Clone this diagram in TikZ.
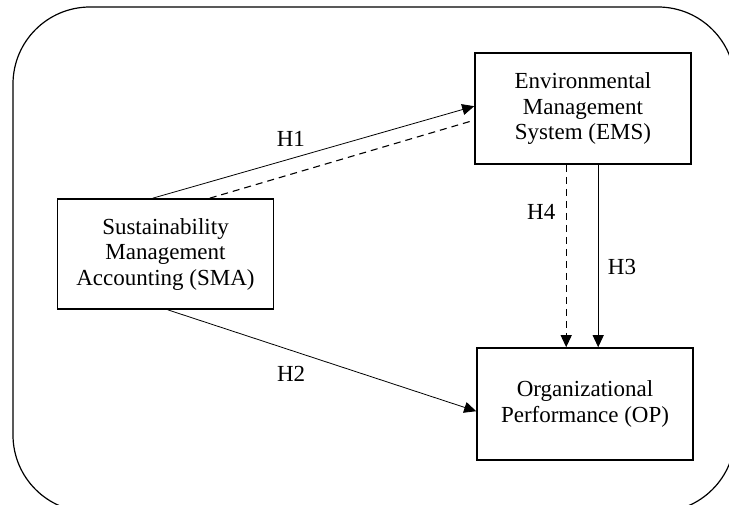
\documentclass[tikz,border=0pt]{standalone}
\usepackage{fontspec}
\setmainfont{Liberation Serif}
\usetikzlibrary{arrows.meta}

\begin{document}
\begin{tikzpicture}
	[x=1pt,y=-1pt,>={Triangle[length=12pt,width=11pt]},
		font=\fontsize{23}{25.5}\selectfont,
		var node/.style={rectangle,draw,line width=1.6pt,align=center,minimum width=216pt,inner sep=0pt},
		link/.style={->,line width=0.8pt},
		weak link/.style={line width=1.1pt,dash pattern=on 7pt off 5pt}]

	\useasboundingbox (0,0) rectangle (729,504);
	\clip (0,0) rectangle (729,504);
	\draw[line width=1.2pt,rounded corners=77pt] (13,7) rectangle (735,512);

	\node[var node,minimum height=110pt] (SMA) at (165.5,254) {Sustainability\\Management\\Accounting (SMA)};
	\node[var node,minimum height=111pt] (EMS) at (583,108.5) {Environmental\\Management\\System (EMS)};
	\node[var node,minimum height=112pt] (OP)  at (585,404)   {Organizational\\Performance (OP)};

	\path[link]
	([xshift=96pt]SMA.north west)  edge node[pos=0.43,above=8pt]  {H1} ([yshift=-54pt]EMS.north west)
	([xshift=111pt]SMA.south west) edge node[pos=0.40,below=12pt] {H2} ([yshift=-64pt]OP.north west)
	([xshift=124pt]EMS.south west) edge node[pos=0.56,right=6pt]  {H3} ([xshift=122pt]OP.north west)
	([xshift=92pt]EMS.south west)  edge[weak link] node[pos=0.26,left=7pt] {H4} ([xshift=90pt]OP.north west)
	;
	% no tip on this one
	\draw[weak link] ([xshift=153pt]SMA.north west) -- ([yshift=-68pt]EMS.north west);

\end{tikzpicture}
\end{document}
